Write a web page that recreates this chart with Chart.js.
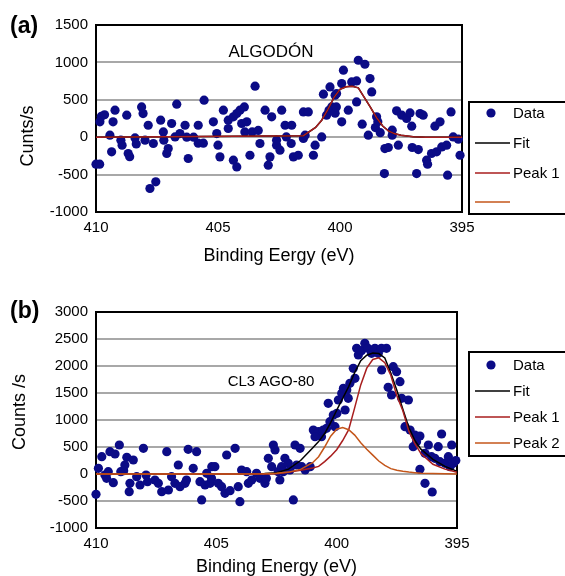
<!DOCTYPE html>
<html>
<head>
<meta charset="utf-8">
<script src="https://cdn.jsdelivr.net/npm/chart.js@4.4.1/dist/chart.umd.min.js"></script>
<style>
    html, body { margin: 0; padding: 0; background: #fff; overflow: hidden; }
    .panel { position: absolute; left: 0; width: 565px; }
    #panelA { top: 0; height: 271px; }
    #panelB { top: 285px; height: 297px; }
</style>
</head>
<body>
<div class="panel" id="panelA"><canvas id="chartA" width="565" height="271"></canvas></div>
<div class="panel" id="panelB"><canvas id="chartB" width="565" height="297"></canvas></div>
<script>
// eje de energia (comun)
const energyTicks = [410, 405, 400, 395];

// (a) ALGODÓN - puntos medidos
const dataA_x = [410.0, 409.85, 409.84, 409.78, 409.65, 409.43, 409.36, 409.3, 409.22, 408.98, 408.93, 408.74, 408.68, 408.62, 408.4, 408.35, 408.13, 408.07, 407.99, 407.86, 407.79, 407.65, 407.55, 407.35, 407.24, 407.22, 407.1, 407.04, 406.9, 406.76, 406.69, 406.56, 406.35, 406.28, 406.22, 406.0, 405.81, 405.81, 405.6, 405.57, 405.19, 405.05, 405.0, 404.92, 404.78, 404.58, 404.58, 404.37, 404.37, 404.23, 404.23, 404.1, 404.03, 403.92, 403.9, 403.82, 403.69, 403.6, 403.48, 403.35, 403.28, 403.07, 402.94, 402.87, 402.8, 402.6, 402.6, 402.46, 402.39, 402.25, 402.2, 402.0, 401.98, 401.91, 401.71, 401.5, 401.5, 401.43, 401.3, 401.09, 401.02, 400.75, 400.68, 400.55, 400.45, 400.41, 400.34, 400.2, 400.2, 400.15, 400.14, 399.93, 399.93, 399.86, 399.66, 399.52, 399.32, 399.32, 399.25, 399.09, 398.98, 398.84, 398.77, 398.7, 398.55, 398.5, 398.45, 398.35, 398.18, 398.16, 398.02, 397.86, 397.86, 397.68, 397.61, 397.47, 397.27, 397.13, 397.06, 397.04, 396.86, 396.79, 396.72, 396.59, 396.45, 396.41, 396.25, 396.11, 396.04, 395.9, 395.83, 395.63, 395.59, 395.45, 395.36, 395.15, 395.08];
const dataA_y = [-361, -361, 205, 280, 300, 27, -196, 205, 361, -40, -107, 294, -218, -260, -10, -90, 405, 316, -40, 160, -686, -84, -597, 227, 71, -40, -218, -152, 183, 4, 441, 49, 160, 0, -285, 0, 160, -80, -80, 495, 205, 49, -107, -263, 361, 116, 227, 272, -307, 316, -397, 361, 183, 405, 71, 205, -241, 71, 682, 90, -84, 361, -374, -263, 272, -107, -40, -174, 361, 160, 4, -84, 160, -263, -241, 338, -17, 27, 338, -241, -107, 4, 575, 294, 360, 672, 405, 561, 320, 405, 584, 205, 717, 896, 361, 739, 752, 472, 1029, 174, 975, 27, 784, 605, 129, 272, 205, 60, -486, -152, -138, 94, 27, 352, -107, 294, 250, 325, 147, -138, -486, -165, 316, 294, -307, -361, -218, 147, -196, 205, -130, -107, -508, 338, 4, -27, -241];

// (a) ajuste
const lineA_x = [410, 401.5, 401, 400.75, 400.5, 400.25, 400, 399.75, 399.5, 399.25, 399, 398.75, 398.5, 398.25, 398, 397.75, 397.5, 397.25, 397, 396.5, 395];
const fitA_y = [0, 20, 130, 227, 370, 530, 640, 675, 680, 660, 530, 400, 260, 150, 80, 45, 25, 15, 5, 0, 0];
const peak1A_y = [0, 20, 130, 227, 370, 530, 640, 675, 680, 660, 530, 400, 260, 150, 80, 45, 25, 15, 5, 0, 0];

// (b) CL3 AGO-80 - puntos medidos
const dataB_x = [410.0, 409.9, 409.76, 409.63, 409.49, 409.56, 409.28, 409.42, 409.21, 409.03, 408.97, 408.85, 408.8, 408.72, 408.45, 408.59, 408.62, 408.31, 408.17, 408.03, 407.92, 407.86, 407.55, 407.41, 407.27, 407.06, 406.99, 406.86, 406.72, 406.58, 406.51, 406.3, 406.24, 406.17, 405.82, 405.96, 405.68, 405.61, 405.4, 405.19, 405.47, 405.26, 405.2, 405.06, 404.92, 404.78, 404.64, 404.57, 404.22, 404.43, 404.09, 404.02, 403.95, 403.74, 403.67, 403.53, 403.33, 403.19, 402.98, 402.92, 402.84, 402.63, 402.56, 402.7, 402.43, 402.29, 402.36, 402.22, 402.15, 402.01, 401.94, 401.8, 401.73, 401.52, 401.66, 401.45, 401.31, 401.1, 400.97, 400.76, 400.56, 400.63, 400.9, 400.42, 400.28, 400.14, 400.35, 399.99, 399.93, 399.79, 399.72, 400.07, 399.65, 399.58, 399.52, 399.45, 399.24, 399.31, 399.1, 399.17, 398.97, 398.83, 398.7, 398.55, 398.41, 398.27, 398.14, 397.93, 398.13, 397.65, 397.51, 397.37, 397.86, 397.72, 397.3, 397.02, 397.16, 396.95, 396.75, 396.54, 396.82, 396.68, 396.54, 396.33, 396.03, 396.33, 396.19, 396.06, 395.92, 395.78, 395.64, 395.71, 395.5, 395.36, 395.22, 395.29, 395.16, 395.05];
const dataB_y = [-376, 105, 320, -19, 43, -80, -161, 413, 370, 537, 43, 60, 167, 309, 259, -172, -328, -50, -204, 476, -19, -143, -111, -172, -328, 413, -296, -50, -172, 167, -235, -172, -111, 457, 413, 105, -143, -481, 12, 136, -204, -172, -80, 136, -172, -235, -358, 352, 476, -309, -235, -512, 74, 43, -172, -111, 12, -80, -172, -80, 290, 537, 444, 136, 43, 136, -111, 43, 290, 198, 74, -481, 537, 476, 167, 136, 74, 136, 815, 784, 815, 690, 690, 846, 969, 1093, 1309, 1124, 1370, 1494, 1587, 876, 1185, 1556, 1401, 1680, 1772, 1957, 2204, 2327, 2283, 2420, 2327, 2235, 2327, 2235, 2327, 2327, 1926, 1987, 1895, 1710, 1605, 1463, 1401, 1370, 876, 815, 722, 704, 506, 598, 87, -172, -333, 383, 537, 320, 290, 506, 741, 228, 198, 320, 537, 136, 198, 250];

// (b) ajuste y componentes
const lineB_x = [410, 404, 403, 402.5, 402, 401.5, 401, 400.75, 400.5, 400.25, 400, 399.75, 399.5, 399.25, 399, 398.75, 398.5, 398.25, 398, 397.75, 397.5, 397.25, 397, 396.75, 396.5, 396, 395.5, 395];
const fitB_y = [0, 0, 10, 25, 90, 250, 480, 600, 750, 950, 1180, 1400, 1620, 1880, 2100, 2200, 2240, 2230, 2150, 1870, 1550, 1200, 860, 620, 460, 270, 140, 50];
const peak1B_y = [0, 0, 0, 5, 30, 70, 110, 140, 230, 330, 450, 620, 820, 1230, 1650, 1960, 2120, 2150, 2060, 1830, 1450, 1170, 790, 560, 380, 180, 90, 30];
const peak2B_y = [0, 0, 5, 15, 35, 85, 210, 320, 500, 700, 830, 860, 820, 720, 580, 460, 350, 240, 160, 100, 70, 50, 35, 25, 15, 8, 5, 0];

const NAVY = '#0b0b86';
const RED = '#a81e1e';
const ORANGE = '#c4561a';
const FONT = '"Liberation Sans", Arial, sans-serif';

Chart.defaults.font.family = FONT;
Chart.defaults.color = '#000';

const pts = (xs, ys) => xs.map((x, i) => ({ x: x, y: ys[i] }));

const makeDatasets = (dx, dy, lx, fit, p1, p2, p2label) => [
    { label: 'Data', data: pts(dx, dy), showLine: false, pointRadius: 4.6, pointHoverRadius: 4.6,
      backgroundColor: NAVY, borderColor: NAVY, borderWidth: 0, clip: false, order: 4 },
    { label: 'Fit', data: pts(lx, fit), showLine: true, pointRadius: 0, borderColor: '#000', borderWidth: 1.5, order: 3 },
    { label: 'Peak 1', data: pts(lx, p1), showLine: true, pointRadius: 0, borderColor: RED, borderWidth: 1.5, order: 2 },
    { label: p2label, data: p2 ? pts(lx, p2) : [], showLine: true, pointRadius: 0, borderColor: ORANGE, borderWidth: 1.5, order: 1 }
];

// marco, rotulos y leyenda con borde
const panelDeco = {
    id: 'panelDeco',
    beforeDatasetsDraw(chart) {
        const { ctx, chartArea: a } = chart;
        ctx.save();
        ctx.strokeStyle = '#000';
        ctx.lineWidth = 2;
        ctx.strokeRect(a.left, a.top, a.right - a.left, a.bottom - a.top);
        ctx.restore();
    },
    afterDraw(chart, args, o) {
        const { ctx } = chart;
        ctx.save();
        ctx.fillStyle = '#000';
        ctx.textBaseline = 'middle';

        ctx.font = 'bold 23px ' + FONT;
        ctx.textAlign = 'left';
        ctx.fillText(o.tag, o.tagX, o.tagY);

        ctx.font = o.noteSize + 'px ' + FONT;
        ctx.textAlign = 'center';
        ctx.fillText(o.note, o.noteX, o.noteY);

        ctx.save();
        ctx.font = '18px ' + FONT;
        ctx.translate(o.yTitleX, o.yTitleY);
        ctx.rotate(-Math.PI / 2);
        ctx.fillText(o.yTitle, 0, 0);
        ctx.restore();

        // leyenda
        const b = o.legend;
        ctx.strokeStyle = '#000';
        ctx.lineWidth = 2;
        ctx.strokeRect(b.x, b.y, b.w, b.h);
        ctx.font = '15px ' + FONT;
        ctx.textAlign = 'left';
        chart.data.datasets.forEach((ds, i) => {
            const y = b.rows[i];
            if (i === 0) {
                ctx.fillStyle = ds.backgroundColor;
                ctx.beginPath();
                ctx.arc(b.x + 22, y, 4.6, 0, Math.PI * 2);
                ctx.fill();
            } else {
                ctx.strokeStyle = ds.borderColor;
                ctx.lineWidth = 1.5;
                ctx.beginPath();
                ctx.moveTo(b.x + 6, y);
                ctx.lineTo(b.x + 41, y);
                ctx.stroke();
            }
            ctx.fillStyle = '#000';
            ctx.fillText(ds.label, b.x + 44, y + 1);
        });
        ctx.restore();
    }
};

const makeChart = (id, cfg) => {
    new Chart(document.getElementById(id), {
        type: 'scatter',
        data: { datasets: cfg.datasets },
        plugins: [panelDeco],
        options: {
            responsive: false,
            animation: false,
            events: [],
            layout: { padding: { top: cfg.padTop, right: cfg.padRight, left: 0, bottom: 0 } },
            scales: {
                x: {
                    type: 'linear', reverse: true, min: 395, max: 410,
                    afterBuildTicks: s => { s.ticks = energyTicks.map(v => ({ value: v })); },
                    afterFit: s => { s.height = cfg.xHeight; },
                    ticks: { font: { size: 15 }, padding: 7, maxRotation: 0, autoSkip: false,
                             callback: v => String(v) },
                    grid: { display: false, drawTicks: false },
                    border: { display: false },
                    title: { display: true, text: cfg.xTitle, font: { size: 18 }, padding: { top: 0, bottom: 4 } }
                },
                y: {
                    min: cfg.yMin, max: cfg.yMax,
                    afterFit: s => { s.width = 96; },
                    ticks: { stepSize: 500, font: { size: 15 }, padding: 8, autoSkip: false,
                             callback: v => String(v) },
                    grid: { color: '#a8a8a8', lineWidth: 2, drawTicks: false },
                    border: { display: false }
                }
            },
            plugins: {
                legend: { display: false },
                tooltip: { enabled: false },
                panelDeco: cfg.deco
            }
        }
    });
};

makeChart('chartA', {
    datasets: makeDatasets(dataA_x, dataA_y, lineA_x, fitA_y, peak1A_y, null, ''),
    padTop: 25, padRight: 103, xHeight: 59,
    yMin: -1000, yMax: 1500,
    xTitle: 'Binding Eergy (eV)',
    deco: {
        tag: '(a)', tagX: 10, tagY: 27,
        note: 'ALGODÓN', noteSize: 17, noteX: 271, noteY: 52,
        yTitle: 'Cunts/s', yTitleX: 28, yTitleY: 136,
        legend: { x: 469, y: 102, w: 120, h: 112, rows: [113, 143, 173, 202] }
    }
});

makeChart('chartB', {
    datasets: makeDatasets(dataB_x, dataB_y, lineB_x, fitB_y, peak1B_y, peak2B_y, 'Peak 2'),
    padTop: 27, padRight: 108, xHeight: 54,
    yMin: -1000, yMax: 3000,
    xTitle: 'Binding Energy (eV)',
    deco: {
        tag: '(b)', tagX: 10, tagY: 27,
        note: 'CL3 AGO-80', noteSize: 15, noteX: 271, noteY: 97,
        yTitle: 'Counts /s', yTitleX: 20, yTitleY: 127,
        legend: { x: 469, y: 67, w: 120, h: 104, rows: [80, 106, 132, 158] }
    }
});
</script>
</body>
</html>
